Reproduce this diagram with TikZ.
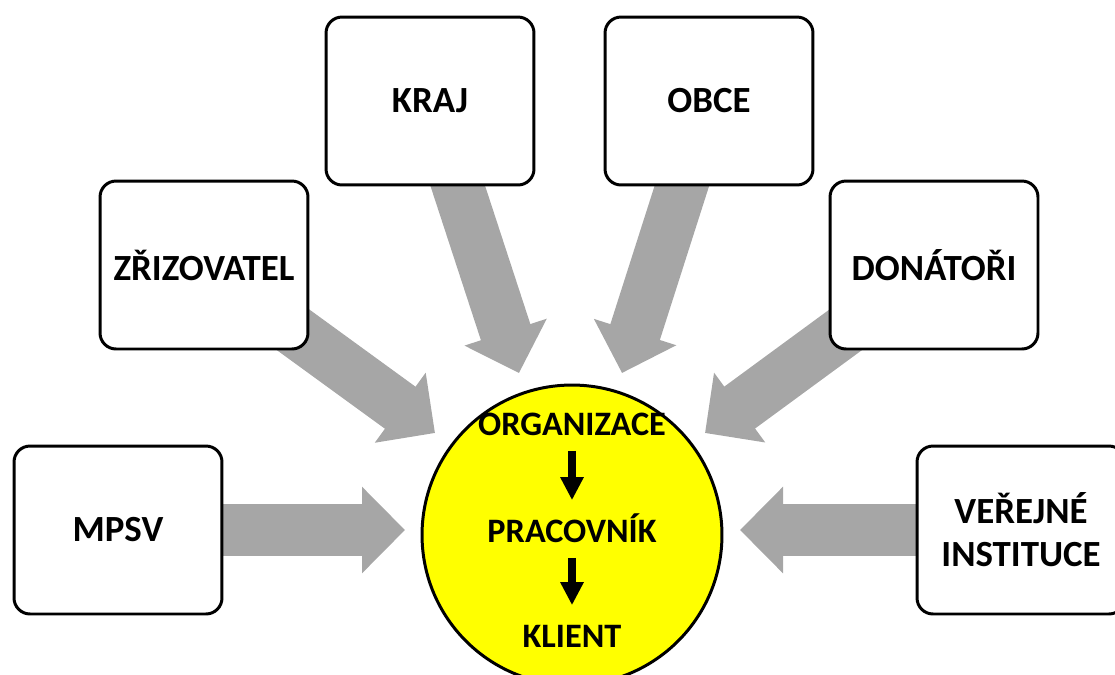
\documentclass[tikz,border=0pt]{standalone}
\usepackage{fontspec}
\setmainfont{Carlito}
\usetikzlibrary{arrows.meta, backgrounds}
\definecolor{arrowgray}{RGB}{166,166,166}
\definecolor{hubyellow}{RGB}{255,255,0}
\tikzset{
	x=0.02cm, y=-0.02cm, % one unit is one pixel of the drawing
	box/.style={draw, line width=1.7pt, rounded corners=0.32cm, fill=white, minimum width=4.16cm, minimum height=3.36cm, align=center, font=\bfseries\fontsize{21}{24.5}\selectfont}, % the six outer boxes
	hub/.style={draw, circle, line width=1.7pt, fill=hubyellow, minimum size=6cm}, % the yellow circle
	level/.style={inner sep=0pt, text height=0.42cm, text depth=0pt, font=\bfseries\fontsize{19.5}{24.5}\selectfont}, % texts inside the circle
	bigarrow/.style={draw=arrowgray, line width=1.04cm, -{Triangle[length=0.86cm, width=1.68cm]}}, % wide grey arrows
	smallarrow/.style={draw=black, line width=0.16cm, -{Triangle[length=0.46cm, width=0.44cm]}, shorten <=0.3cm, shorten >=0.42cm}, % arrows inside the circle
}
\begin{document}
\begin{tikzpicture}
	\useasboundingbox (0,0) rectangle (1115,674);
	\node[hub] (centre) at (572,535) {};
	\node[level] (org) at (572,425) {ORGANIZACE};
	\node[level] (prac) at (572,532) {PRACOVNÍK};
	\node[level] (klient) at (572,637) {KLIENT};
	\draw[smallarrow] (org) -- (prac);
	\draw[smallarrow] (prac) -- (klient);

	\node[box] (mpsv) at (118,530) {MPSV};
	\node[box] (zriz) at (204,265) {ZŘIZOVATEL};
	\node[box] (kraj) at (430,101) {KRAJ};
	\node[box] (obce) at (709,101) {OBCE};
	\node[box] (donatori) at (934,265) {DONÁTOŘI};
	\node[box] (instituce) at (1021,530) {VEŘEJNÉ\\INSTITUCE};

	% where the grey arrows end
	\coordinate (tmpsv) at (405,530);
	\coordinate (tzriz) at (435,433);
	\coordinate (tkraj) at (519,373);
	\coordinate (tobce) at (622,373);
	\coordinate (tdonatori) at (705,433);
	\coordinate (tinstituce) at (740,530);

	\begin{scope}[on background layer]
		\draw[bigarrow] (mpsv.center) -- (tmpsv);
		\draw[bigarrow] (zriz.center) -- (tzriz);
		\draw[bigarrow] (kraj.center) -- (tkraj);
		\draw[bigarrow] (obce.center) -- (tobce);
		\draw[bigarrow] (donatori.center) -- (tdonatori);
		\draw[bigarrow] (instituce.center) -- (tinstituce);
	\end{scope}
\end{tikzpicture}
\end{document}
